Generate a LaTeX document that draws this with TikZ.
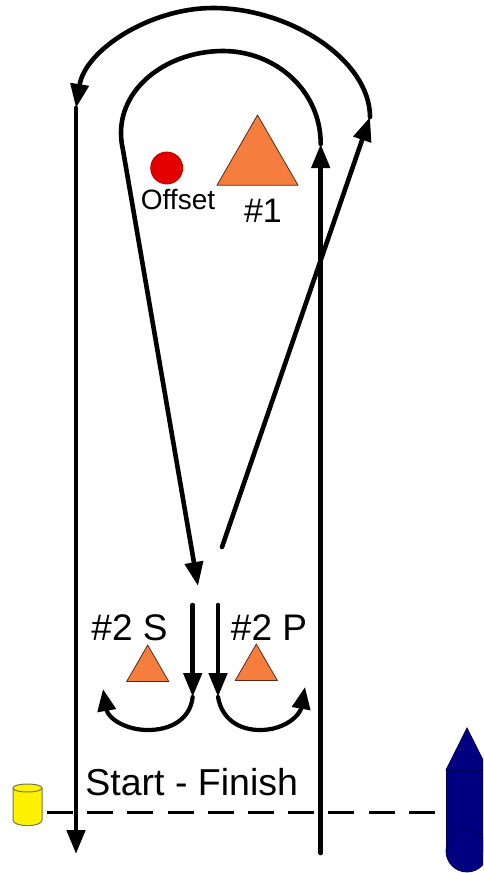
\documentclass[tikz,border=0pt]{standalone}
\usepackage{fontspec}
\setmainfont{Liberation Sans}
\usetikzlibrary{arrows.meta,shapes.geometric}
\definecolor{markorange}{RGB}{245,125,62}
\definecolor{boatblue}{RGB}{0,0,128}
\begin{document}
\begin{tikzpicture}[x=1pt,y=-1pt,
    course/.style={line width=4.6pt,line cap=round,-{Triangle[length=24pt,width=18pt]}},
    sweep/.style={line width=4.2pt,line cap=round,-{Triangle[length=22pt,width=18pt]}},
    startline/.style={line width=3pt,dash pattern=on 26pt off 14.2pt},
    bigmark/.style={regular polygon,regular polygon sides=3,draw=black!65!markorange,fill=markorange,line width=.8pt,inner sep=0pt,outer sep=0pt,minimum size=93.5pt},
    smallmark/.style={bigmark,minimum size=48.5pt},
    label/.style={inner sep=0pt,anchor=base,font=\fontsize{37}{37}\selectfont,text=black}]
  \useasboundingbox (0,0) rectangle (483,873);
  \clip (0,0) rectangle (483,873);
  \fill[white] (0,0) rectangle (483,873);

  \node[bigmark] (mark1) at (257.5,161.8) {};
  \node[smallmark] (mark2s) at (147.7,669.3) {};
  \node[smallmark] (mark2p) at (256.3,668.3) {};
  \node[circle,draw=red!70!black,fill=red!90!black,line width=.8pt,inner sep=0pt,minimum size=32pt] (offset) at (166.7,168) {};

  \node[label,font=\fontsize{28}{28}\selectfont] (offsettext) at (178,209) {Offset};
  \node[label,font=\fontsize{34}{34}\selectfont] (mark1text) at (263,222.7) {\#1};
  \node[label] (mark2stext) at (129.5,640) {\#2 S};
  \node[label] (mark2ptext) at (269,640) {\#2 P};
  \node[label,font=\fontsize{37.5}{37.5}\selectfont] (starttext) at (191.7,795) {Start - Finish};

  \filldraw[draw=black!60!yellow,fill=yellow,line width=1pt] (13,788) -- (13,820)
    .. controls (13,827.5) and (42,827.5) .. (42,820) -- (42,788)
    .. controls (42,782.7) and (13,782.7) .. (13,788) -- cycle;
  \draw[black!60!yellow,line width=1pt] (13,788) .. controls (13,793.3) and (42,793.3) .. (42,788);

  \fill[boatblue,draw=boatblue!70!black,line width=.8pt] (446,770) -- (467,728) -- (488,770) -- cycle;
  \fill[boatblue,draw=boatblue!70!black,line width=.8pt] (446,770) rectangle (488,851);
  \node[circle,draw=boatblue!70!black,fill=boatblue,line width=.8pt,inner sep=0pt,minimum size=42pt] (boat) at (467,851) {};

  \coordinate (lineL) at (47,812);
  \coordinate (lineR) at (436,812);
  \coordinate (leftend) at (76,854);
  \coordinate (rightstart) at (320.7,853);
  \coordinate (rightturn) at (320.7,144);
  \coordinate (outerturn) at (370,117);
  \coordinate (outerback) at (76,108);
  \coordinate (gateout) at (222,547);
  \coordinate (gatein) at (198,586);
  \coordinate (lane1) at (192.7,605);
  \coordinate (lane1end) at (192.7,697);
  \coordinate (lane2) at (218,605);
  \coordinate (lane2end) at (218,697);
  \coordinate (sweep1) at (103,689);
  \coordinate (sweep2) at (305,687);

  \draw[startline] (lineL) -- (lineR);

  \draw[course] (outerback) -- (leftend);
  \draw[course] (rightstart) -- (rightturn);
  \draw[course] (gateout) -- (outerturn);
  \draw[course] (outerturn) .. controls (370,60) and (290,8) .. (213,8)
    .. controls (150,8) and (85,50) .. (outerback);
  \draw[course] (rightturn) .. controls (320.7,90) and (275,51) .. (223,51)
    .. controls (170,51) and (121,85) .. (121,133)
    .. controls (121,140) and (122,145) .. (123,150) -- (gatein);
  \draw[course] (lane1) -- (lane1end);
  \draw[course] (lane2) -- (lane2end);
  \draw[sweep] (lane1end) .. controls (190,720) and (170,730) .. (148,730)
    .. controls (125,730) and (108,718) .. (sweep1);
  \draw[sweep] (lane2end) .. controls (222,720) and (240,730) .. (260,730)
    .. controls (285,730) and (300,715) .. (sweep2);
\end{tikzpicture}
\end{document}
